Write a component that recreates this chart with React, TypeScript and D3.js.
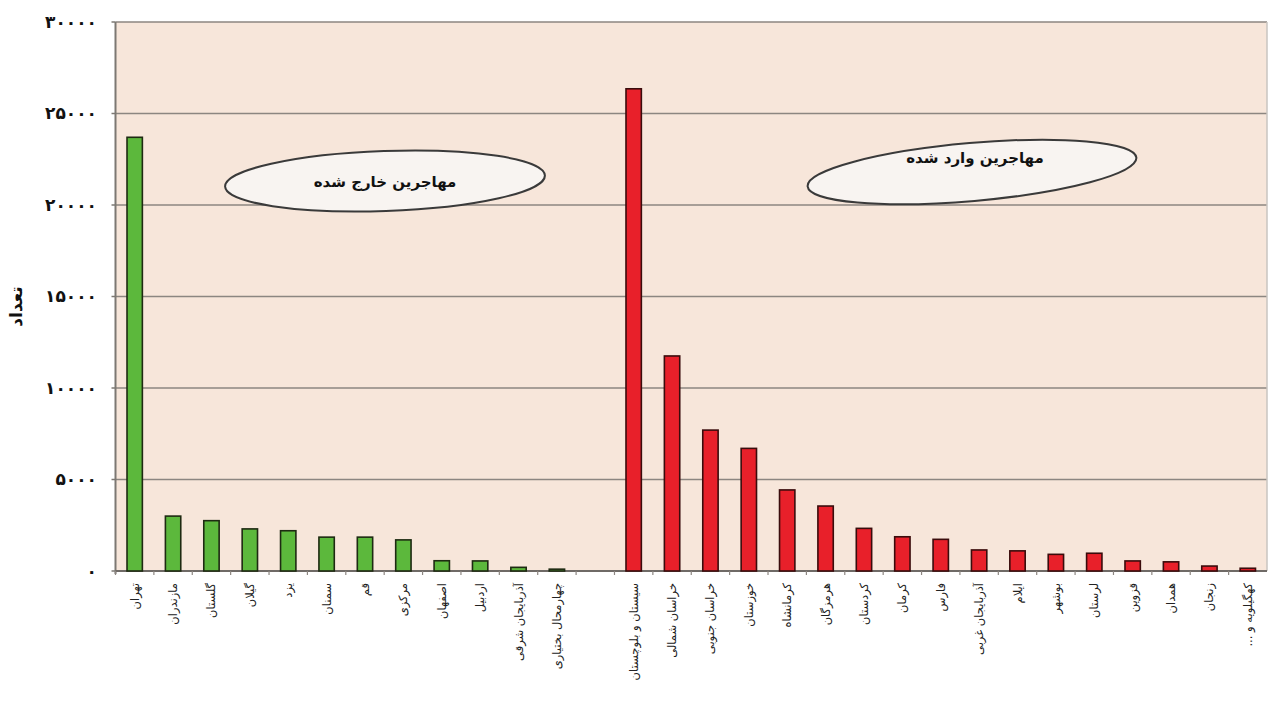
import React from "react";
import * as d3 from "d3";

const outCategories = ["تهران","مازندران","گلستان","گیلان","یزد","سمنان","قم","مرکزی","اصفهان","اردبیل","آذربایجان شرقی","چهارمحال بختیاری"];
const outValues = [23700,3000,2750,2300,2200,1850,1850,1700,560,550,200,100];
const inCategories = ["سیستان و بلوچستان","خراسان شمالی","خراسان جنوبی","خوزستان","کرمانشاه","هرمزگان","کردستان","کرمان","فارس","آذربایجان غربی","ایلام","بوشهر","لرستان","قزوین","همدان","زنجان","کهگیلویه و ..."];
const inValues = [26350,11750,7700,6700,4430,3550,2330,1870,1730,1150,1100,910,970,550,500,270,150];
const yTicks = [0,5000,10000,15000,20000,25000,30000];
const yTickLabels = ["۰","۵۰۰۰","۱۰۰۰۰","۱۵۰۰۰","۲۰۰۰۰","۲۵۰۰۰","۳۰۰۰۰"];
const yTitle = "تعداد";
const outTitle = "مهاجرین خارج شده";
const inTitle = "مهاجرین وارد شده";

const GAP = "__gap__";

export default function App() {
  const W = 1269, H = 721;
  const left = 115.5, right = 1267, top = 22, bottom = 571;
  const domain = [...outCategories, GAP, ...inCategories];
  const x = d3.scaleBand<string>().domain(domain).range([left, right]).paddingInner(0.6).paddingOuter(0.3);
  const y = d3.scaleLinear().domain([0, 30000]).range([bottom, top]);
  const step = x.step();
  const font = "'DejaVu Sans', 'Noto Sans', sans-serif";

  const bars = [
    ...outCategories.map((c, i) => ({ c, v: outValues[i], fill: "#5cb83c", stroke: "#1e2a12" })),
    ...inCategories.map((c, i) => ({ c, v: inValues[i], fill: "#e8202a", stroke: "#3a0c0c" })),
  ];
  const labels = [...outCategories, ...inCategories];

  return (
    <svg width={W} height={H} style={{ position: "absolute", left: 0, top: 0, background: "#fff" }}>
      <rect x={left} y={top} width={right - left} height={bottom - top} fill="#f7e6da" />
      {yTicks.map((t) => (
        <line key={t} x1={left} x2={right} y1={y(t)} y2={y(t)} stroke="#8c8681" strokeWidth={1.6} />
      ))}
      <line x1={right} x2={right} y1={top} y2={bottom} stroke="#c9c4c0" strokeWidth={1.5} />
      <line x1={left} x2={left} y1={top} y2={bottom + 3} stroke="#7d7873" strokeWidth={2} />
      {yTicks.map((t) => (
        <line key={"t" + t} x1={left - 4} x2={left} y1={y(t)} y2={y(t)} stroke="#7d7873" strokeWidth={1.5} />
      ))}
      <line x1={left} x2={right} y1={bottom} y2={bottom} stroke="#6f6a66" strokeWidth={2} />
      {domain.map((c, i) => (
        <line key={"xt" + i} x1={left + i * step} x2={left + i * step} y1={bottom} y2={bottom + 4} stroke="#8c8681" strokeWidth={1.2} />
      ))}
      {bars.map((b) => (
        <rect key={b.c} x={x(b.c)} y={y(b.v)} width={x.bandwidth()} height={bottom - y(b.v)} fill={b.fill} stroke={b.stroke} strokeWidth={1.6} />
      ))}
      {yTicks.map((t, i) => (
        <text key={"yl" + t} x={97} y={y(t)} dy="0.35em" textAnchor="end" fontFamily={font} fontWeight="bold" fontSize={17} fill="#111">
          {yTickLabels[i]}
        </text>
      ))}
      <text transform={`translate(22,${(top + bottom) / 2 + 10}) rotate(-90)`} textAnchor="middle" fontFamily={font} fontWeight="bold" fontSize={17} fill="#111">
        {yTitle}
      </text>
      {labels.map((c) => (
        <text key={"xl" + c} transform={`translate(${(x(c) as number) + x.bandwidth() / 2 + 4},${bottom + 12}) rotate(-90)`} direction="rtl" textAnchor="start" fontFamily={font} fontSize={11.5} fill="#222">
          {c}
        </text>
      ))}
      <g transform="translate(385,181) rotate(-2)">
        <ellipse rx={160} ry={30} fill="#f8f4f1" stroke="#3a3a3a" strokeWidth={2} />
      </g>
      <text x={385} y={187} textAnchor="middle" fontFamily={font} fontWeight="bold" fontSize={15} fill="#111">{outTitle}</text>
      <g transform="translate(972,172) rotate(-5)">
        <ellipse rx={165} ry={29} fill="#f8f4f1" stroke="#3a3a3a" strokeWidth={2} />
      </g>
      <text x={975} y={163} textAnchor="middle" fontFamily={font} fontWeight="bold" fontSize={15} fill="#111">{inTitle}</text>
    </svg>
  );
}
